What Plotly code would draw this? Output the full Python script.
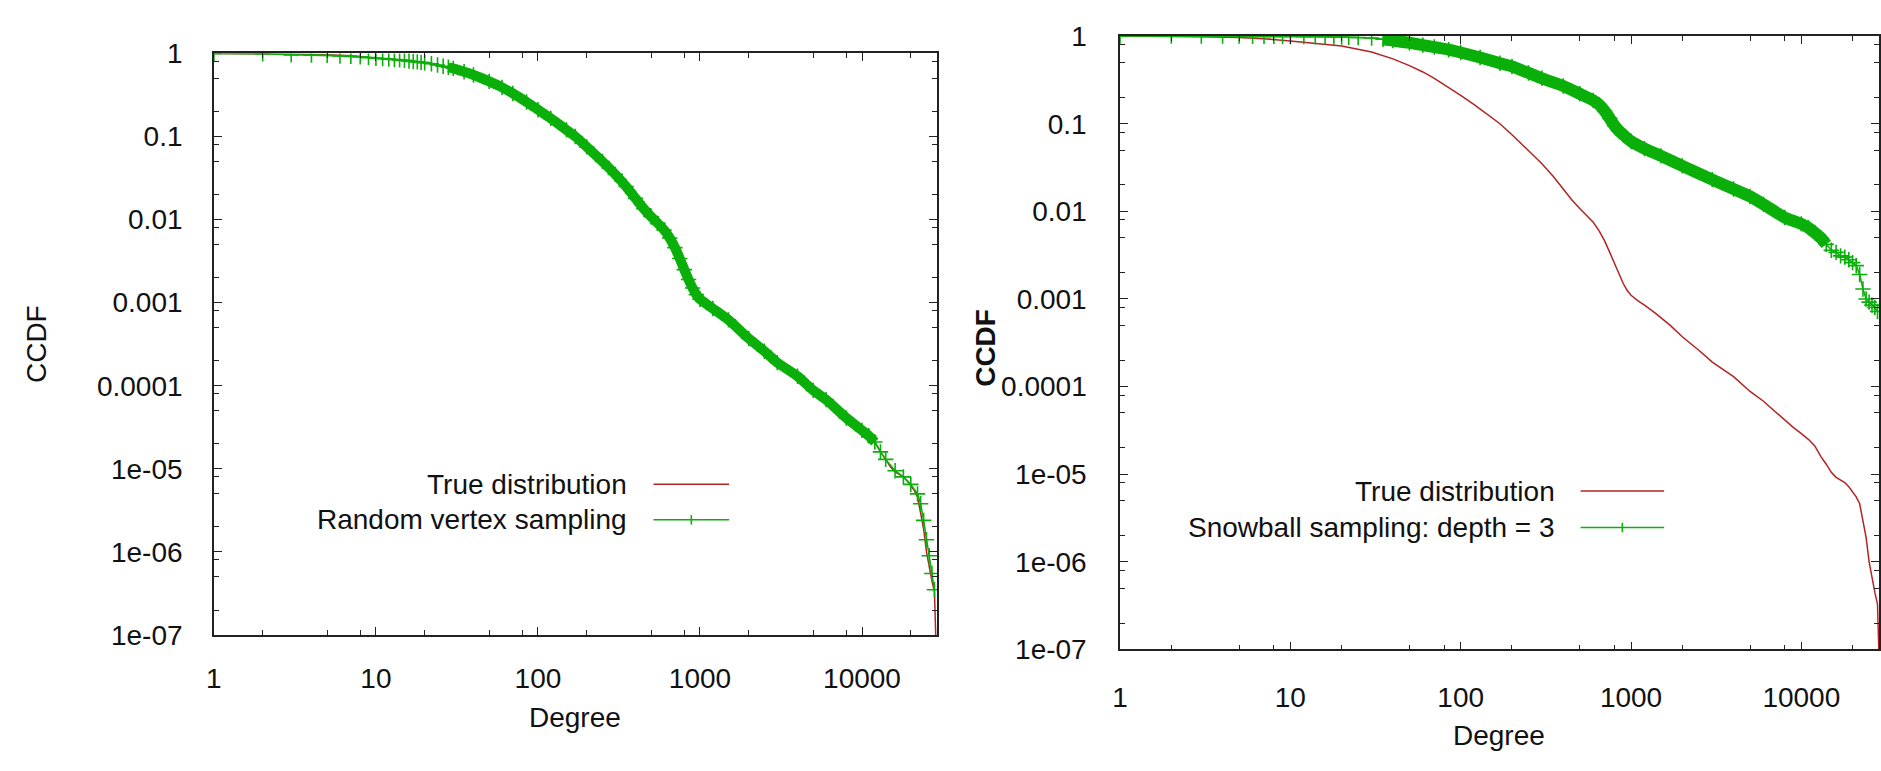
import plotly.graph_objects as go

W, H = 1881, 771

# ---------------- data ----------------
true_deg = [1, 2, 3, 5, 7, 10, 15, 20, 30, 40, 50, 60, 70, 85, 100, 120, 150, 170, 200, 250, 300, 350,
            400, 450, 500, 550, 600, 650, 700, 750, 800, 850, 900, 950, 1000, 1100, 1200, 1400, 1700,
            2000, 2500, 3000, 3500, 4000, 5000, 6000, 7000, 8000, 9000, 10000, 11000, 12000, 13000,
            14000, 15000, 16000, 17000, 18000, 19000, 20000, 21000, 22000, 23000, 24000, 25000, 26000,
            27000, 28000, 28500]
true_ccdf = [1.0, 0.995, 0.985, 0.965, 0.935, 0.88, 0.82, 0.77, 0.66, 0.55, 0.46, 0.39, 0.33, 0.26,
             0.21, 0.165, 0.12, 0.10, 0.075, 0.05, 0.035, 0.025, 0.018, 0.0135, 0.0108, 0.009, 0.0075,
             0.006, 0.0046, 0.0034, 0.0025, 0.0019, 0.0015, 0.00125, 0.0011, 0.00095, 0.00085, 0.00068,
             0.0005, 0.00037, 0.00026, 0.00019, 0.000155, 0.00013, 8.8e-5, 6.8e-5, 5.2e-5, 4.1e-5,
             3.4e-5, 2.9e-5, 2.5e-5, 2.1e-5, 1.6e-5, 1.3e-5, 1.05e-5, 9.2e-6, 8.6e-6, 8.0e-6, 7.2e-6,
             6.3e-6, 5.5e-6, 4.6e-6, 3.0e-6, 1.9e-6, 1.0e-6, 6.5e-7, 4.5e-7, 3.3e-7, 1e-7]

rv_deg = [1, 2, 3, 4, 5, 6, 7, 8, 9, 10, 11, 12, 13, 14, 15, 16, 17, 18, 19, 20, 22, 24, 26, 28, 30, 35,
          40, 50, 60, 70, 85, 100, 120, 150, 170, 200, 250, 300, 350, 400, 450, 500, 550, 600, 650, 700,
          750, 800, 850, 900, 950, 1000, 1200, 1500, 2000, 2500, 3000, 4000, 5000, 6000, 8000, 10000,
          11000, 12000, 13000, 14000, 16000, 18000, 20000, 22000, 23000, 24000, 25000, 26000, 27000,
          28000]
rv_ccdf = [1.0, 0.99, 0.96, 0.955, 0.95, 0.93, 0.92, 0.91, 0.89, 0.875, 0.865, 0.855, 0.845, 0.835,
           0.825, 0.81, 0.80, 0.79, 0.78, 0.77, 0.75, 0.725, 0.70, 0.68, 0.66, 0.6, 0.55, 0.46, 0.39,
           0.33, 0.26, 0.21, 0.165, 0.12, 0.1, 0.075, 0.05, 0.035, 0.025, 0.018, 0.0135, 0.0108, 0.009,
           0.0075, 0.006, 0.0046, 0.0034, 0.0025, 0.0019, 0.0015, 0.00125, 0.0011, 0.00085, 0.00062,
           0.00037, 0.00026, 0.00019, 0.00013, 8.8e-5, 6.8e-5, 4.1e-5, 2.9e-5, 2.5e-5, 2.1e-5, 1.6e-5,
           1.3e-5, 9.5e-6, 8.0e-6, 6.5e-6, 5.0e-6, 3.8e-6, 2.4e-6, 1.4e-6, 9e-7, 5.5e-7, 3.5e-7]

sb_deg = [1, 2, 3, 4, 5, 6, 7, 8, 9, 10, 12, 14, 16, 18, 20, 22, 25, 30, 35, 40, 50, 60, 70, 85, 100,
          130, 170, 200, 250, 300, 400, 500, 600, 650, 700, 750, 800, 850, 900, 1000, 1200, 1500, 2000,
          3000, 4000, 5000, 6000, 8000, 10000, 11000, 12000, 13000, 14000, 15000, 16000, 17000, 18000,
          19000, 20000, 21000, 22000, 23000, 24000, 25000, 26000, 27000, 28000]
sb_ccdf = [1.0, 1.0, 1.0, 1.0, 1.0, 0.998, 0.996, 0.994, 0.992, 0.99, 0.988, 0.985, 0.982, 0.978,
           0.975, 0.97, 0.965, 0.95, 0.92, 0.89, 0.84, 0.79, 0.75, 0.70, 0.65, 0.57, 0.49, 0.45,
           0.38, 0.33, 0.27, 0.22, 0.185, 0.165, 0.14, 0.115, 0.095, 0.083, 0.075, 0.063, 0.052, 0.043,
           0.033, 0.023, 0.018, 0.0148, 0.012, 0.0085, 0.0072, 0.0065, 0.0057, 0.0050, 0.0042, 0.0036,
           0.0034, 0.0031, 0.0030, 0.0028, 0.0026, 0.0024, 0.0019, 0.0013, 0.0010, 0.00092, 0.00085,
           0.0008, 0.00072]

x_tickvals = [1, 10, 100, 1000, 10000]
x_ticktext = ["1", "10", "100", "1000", "10000"]
y_tickvals = [1, 0.1, 0.01, 0.001, 0.0001, 1e-5, 1e-6, 1e-7]
y_ticktext = ["1", "0.1", "0.01", "0.001", "0.0001", "1e-05", "1e-06", "1e-07"]
x_minor = [2, 5, 8, 20, 50, 80, 200, 500, 800, 2000, 5000, 8000, 20000]
y_minor = [m * 10.0 ** (-k) for k in range(1, 8) for m in (8, 5, 2)]

# ---------------- style ----------------
RED = "rgb(180,35,35)"
GREEN = "rgb(10,175,10)"
FONT = "Liberation Sans, Arial, sans-serif"
FS = 28


def px(x):
    return x / W


def py(y):
    return 1 - y / H


fig = go.Figure()


def green_series(xs, ys, xa, ya, lo, hi, band):
    # dense band where the '+' markers overlap
    bx = [x for x in xs if lo <= x <= hi]
    by = [y for x, y in zip(xs, ys) if lo <= x <= hi]
    fig.add_trace(go.Scatter(x=bx, y=by, mode="lines", xaxis=xa, yaxis=ya, showlegend=False,
                             line=dict(color=GREEN, width=band, shape="spline", smoothing=0.6),
                             hoverinfo="skip"))
    fig.add_trace(go.Scatter(x=xs, y=ys, mode="lines+markers", xaxis=xa, yaxis=ya, showlegend=False,
                             line=dict(color=GREEN, width=1.5),
                             marker=dict(symbol="cross-thin", size=11,
                                         line=dict(color=GREEN, width=1.6))))


# left panel
fig.add_trace(go.Scatter(x=true_deg, y=true_ccdf, mode="lines", xaxis="x", yaxis="y",
                         showlegend=False, line=dict(color=RED, width=1.5)))
green_series(rv_deg, rv_ccdf, "x", "y", 28, 12000, 10)

# right panel
fig.add_trace(go.Scatter(x=true_deg, y=true_ccdf, mode="lines", xaxis="x2", yaxis="y2",
                         showlegend=False, line=dict(color=RED, width=1.5)))
green_series(sb_deg, sb_ccdf, "x2", "y2", 35, 14000, 12)

axis_common = dict(type="log", showgrid=False, zeroline=False, showline=True,
                   linecolor="#222", linewidth=1.5, mirror="allticks",
                   ticks="inside", ticklen=8, tickwidth=1.2, tickcolor="#222",
                   tickfont=dict(family=FONT, size=FS, color="#111"))
minor_common = dict(tickmode="array", ticks="inside", ticklen=5, tickcolor="#222", tickwidth=1.2)

fig.update_layout(
    width=W, height=H,
    margin=dict(l=0, r=0, t=0, b=0),
    paper_bgcolor="white", plot_bgcolor="white",
    showlegend=False,
    xaxis=dict(**axis_common, domain=[px(207), px(934)], range=[0, 4.463], anchor="y",
               tickmode="array", tickvals=x_tickvals, ticktext=x_ticktext, ticklabelstandoff=18,
               minor=dict(**minor_common, tickvals=x_minor)),
    yaxis=dict(**axis_common, domain=[py(646), py(40)], range=[-7, 0], anchor="x",
               tickmode="array", tickvals=y_tickvals, ticktext=y_ticktext, ticklabelstandoff=24,
               minor=dict(**minor_common, tickvals=y_minor)),
    xaxis2=dict(**axis_common, domain=[px(1118), 1.0], range=[0, 4.456], anchor="y2",
                tickmode="array", tickvals=x_tickvals, ticktext=x_ticktext, ticklabelstandoff=22,
                minor=dict(**minor_common, tickvals=x_minor)),
    yaxis2=dict(**axis_common, domain=[py(661), py(22)], range=[-7, 0], anchor="x2",
                tickmode="array", tickvals=y_tickvals, ticktext=y_ticktext, ticklabelstandoff=26,
                minor=dict(**minor_common, tickvals=y_minor)),
)

ann = []
shapes = []


def text(x, y, s, anchor="center", angle=0, bold=False):
    ann.append(dict(x=px(x), y=py(y), xref="paper", yref="paper", text=("<b>%s</b>" % s) if bold else s,
                    showarrow=False, xanchor=anchor, yanchor="middle", textangle=angle,
                    font=dict(family=FONT, size=FS, color="#111")))


def hline(x0, x1, y, color, w=1.5):
    shapes.append(dict(type="line", xref="paper", yref="paper", x0=px(x0), x1=px(x1), y0=py(y), y1=py(y),
                       line=dict(color=color, width=w)))


def vtick(x, y, color, h=5):
    shapes.append(dict(type="line", xref="paper", yref="paper", x0=px(x), x1=px(x), y0=py(y - h), y1=py(y + h),
                       line=dict(color=color, width=1.6)))


# axis titles
text(28, 343, "CCDF", angle=-90)
text(570, 732, "Degree")
text(982, 347, "CCDF", angle=-90, bold=True)
text(1499, 751, "Degree")

# left legend
text(624, 489, "True distribution", anchor="right")
hline(649, 725, 489, RED)
text(624, 526, "Random vertex sampling", anchor="right")
hline(649, 725, 526, GREEN)
vtick(687, 526, GREEN)

# right legend
text(1557, 496, "True distribution", anchor="right")
hline(1581, 1665, 496, RED)
text(1557, 534, "Snowball sampling: depth = 3", anchor="right")
hline(1581, 1665, 534, GREEN)
vtick(1623, 534, GREEN)

fig.update_layout(annotations=ann, shapes=shapes)
fig.write_html("out.html", config={"displayModeBar": False},
               post_script="document.body.style.margin='0';document.body.style.overflow='hidden';")
